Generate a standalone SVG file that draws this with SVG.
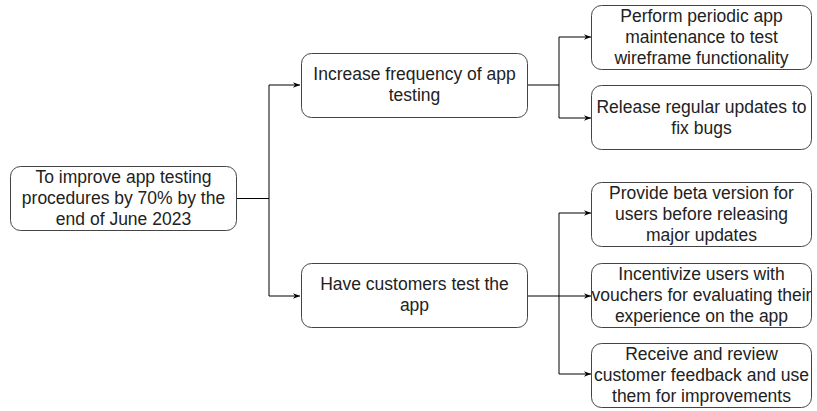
<svg xmlns="http://www.w3.org/2000/svg" width="817" height="411" viewBox="0 0 817 411">
<defs>
<marker id="arr" viewBox="0 0 10 10" refX="10" refY="5" markerWidth="7" markerHeight="7" markerUnits="userSpaceOnUse" orient="auto">
<path d="M0,1 L10,5 L0,9 L3,5 Z" fill="#000"/>
</marker>
<style>
.box{fill:#fff;stroke:#444;stroke-width:1}
.t{font-family:"Liberation Sans",Arial,sans-serif;font-size:17.5px;fill:#222;text-anchor:middle}
.c{fill:none;stroke:#000;stroke-width:1}
</style>
</defs>
<rect width="817" height="411" fill="#fff"/>
<g id="connectors">
<path class="c" d="M237,198.5 H269 V85 H300" marker-end="url(#arr)"/>
<path class="c" d="M269,198.5 V296 H300" marker-end="url(#arr)"/>
<path class="c" d="M527,85 H559 V37 H591" marker-end="url(#arr)"/>
<path class="c" d="M559,85 V118 H591" marker-end="url(#arr)"/>
<path class="c" d="M527,296 H591" marker-end="url(#arr)"/>
<path class="c" d="M559,296 V213 H591" marker-end="url(#arr)"/>
<path class="c" d="M559,296 V374 H591" marker-end="url(#arr)"/>
</g>
<g id="root">
<rect class="box" x="10.5" y="166.5" width="226" height="64" rx="10"/>
<text class="t" x="123.5" y="183">To improve app testing</text>
<text class="t" x="123.5" y="204">procedures by 70% by the</text>
<text class="t" x="123.5" y="225">end of June 2023</text>
</g>
<g id="increase">
<rect class="box" x="301.5" y="53.5" width="226" height="64" rx="10"/>
<text class="t" x="414.5" y="80">Increase frequency of app</text>
<text class="t" x="414.5" y="101">testing</text>
</g>
<g id="customers">
<rect class="box" x="301.5" y="263.5" width="226" height="64" rx="10"/>
<text class="t" x="414.5" y="290">Have customers test the</text>
<text class="t" x="414.5" y="311">app</text>
</g>
<g id="maintenance">
<rect class="box" x="591.5" y="5.5" width="220" height="64" rx="10"/>
<text class="t" x="701.5" y="22">Perform periodic app</text>
<text class="t" x="701.5" y="43">maintenance to test</text>
<text class="t" x="701.5" y="64">wireframe functionality</text>
</g>
<g id="updates">
<rect class="box" x="591.5" y="85.5" width="220" height="64" rx="10"/>
<text class="t" x="701.5" y="113">Release regular updates to</text>
<text class="t" x="701.5" y="134">fix bugs</text>
</g>
<g id="beta">
<rect class="box" x="591.5" y="182.5" width="220" height="64" rx="10"/>
<text class="t" x="701.5" y="199">Provide beta version for</text>
<text class="t" x="701.5" y="220">users before releasing</text>
<text class="t" x="701.5" y="241">major updates</text>
</g>
<g id="vouchers">
<rect class="box" x="591.5" y="263.5" width="220" height="64" rx="10"/>
<text class="t" x="701.5" y="280">Incentivize users with</text>
<text class="t" x="701.5" y="301">vouchers for evaluating their</text>
<text class="t" x="701.5" y="322">experience on the app</text>
</g>
<g id="feedback">
<rect class="box" x="591.5" y="343.5" width="220" height="64" rx="10"/>
<text class="t" x="701.5" y="360">Receive and review</text>
<text class="t" x="701.5" y="381">customer feedback and use</text>
<text class="t" x="701.5" y="402">them for improvements</text>
</g>
</svg>
